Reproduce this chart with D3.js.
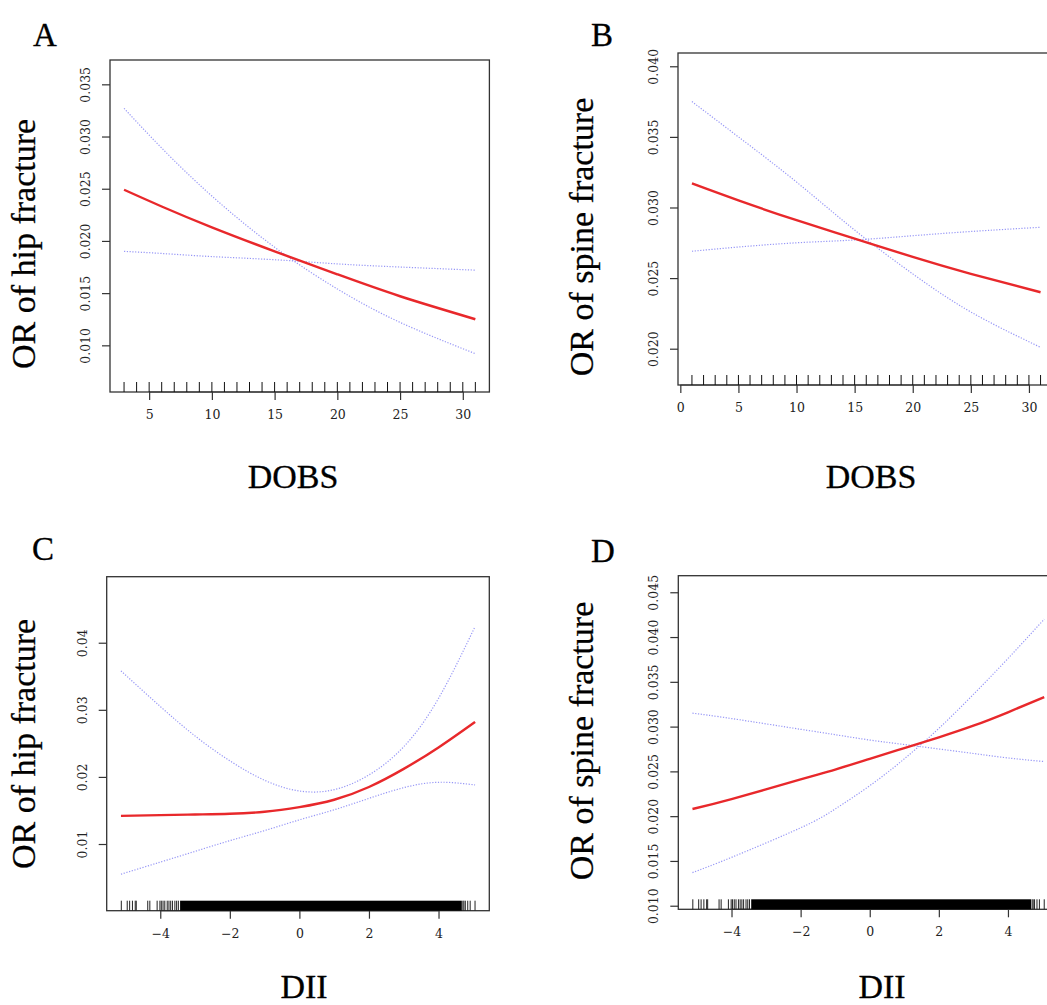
<!DOCTYPE html>
<html>
<head>
<meta charset="utf-8">
<script src="https://cdn.jsdelivr.net/npm/d3@7"></script>
<style>
  body { margin: 0; background: #fff; overflow: hidden; }
  svg { display: block; }
</style>
</head>
<body>
<div id="container"></div>
<script>
const width = 1047,
  height = 1005;

// ---- data ----

// A: DOBS vs OR of hip fracture
const dobsA = [3, 6, 10, 15, 20, 25, 31];
const hipFitA = [0.0249, 0.0233, 0.0213, 0.0190, 0.0168, 0.0147, 0.0125];
const hipBandA1 = [0.0327, 0.0289, 0.0243, 0.0194, 0.0154, 0.0122, 0.0092];
const hipBandA2 = [0.0190, 0.0188, 0.0185, 0.0182, 0.0178, 0.0175, 0.0172];
const rugA = [3, 4, 5, 6, 7, 8, 9, 10, 11, 12, 13, 14, 15, 16, 17, 18, 19, 20, 21, 22, 23, 24, 25, 26, 27, 28, 29, 30, 31];

// B: DOBS vs OR of spine fracture
const dobsB = [1, 5, 10, 15, 20, 25, 31];
const spineFitB = [0.0317, 0.0305, 0.0291, 0.0278, 0.0265, 0.0253, 0.0240];
const spineBandB1 = [0.0375, 0.0350, 0.0318, 0.0284, 0.0253, 0.0226, 0.0201];
const spineBandB2 = [0.0269, 0.0272, 0.0275, 0.0277, 0.0280, 0.0283, 0.0286];
const rugB = [1, 2, 3, 4, 5, 6, 7, 8, 9, 10, 11, 12, 13, 14, 15, 16, 17, 18, 19, 20, 21, 22, 23, 24, 25, 26, 27, 28, 29, 30, 31];

// C: DII vs OR of hip fracture
const diiC = [-5.13, -4, -3, -2, -1, 0, 1, 2, 3, 4, 5.05];
const hipFitC = [0.0142, 0.0143, 0.0144, 0.0145, 0.0148, 0.0155, 0.0166, 0.0185, 0.0212, 0.0244, 0.0282];
const hipBandC1 = [0.0358, 0.0305, 0.0261, 0.0224, 0.0195, 0.0179, 0.0181, 0.0203, 0.0245, 0.0317, 0.0424];
const hipBandC2 = [0.0055, 0.0073, 0.0089, 0.0105, 0.0120, 0.0136, 0.0151, 0.0168, 0.0184, 0.0192, 0.0188];

// D: DII vs OR of spine fracture
const diiD = [-5.13, -4, -2, -1, 0, 1, 2, 3, 4, 5.05];
const spineFitD = [0.0208, 0.0219, 0.0241, 0.0252, 0.0264, 0.0276, 0.0288, 0.0301, 0.0316, 0.0333];
const spineBandD1 = [0.0137, 0.0154, 0.0187, 0.0208, 0.0234, 0.0264, 0.0298, 0.0336, 0.0376, 0.0420];
const spineBandD2 = [0.0315, 0.0309, 0.0297, 0.0291, 0.0285, 0.0280, 0.0275, 0.0270, 0.0265, 0.0261];

// DII rug: sparse ticks at both ends + the solid dense run in between
const diiRugSparse = [-5.12, -4.95, -4.88, -4.80, -4.72, -4.69, -4.36, -4.30, -4.09, -4.01, -3.97, -3.92,
  -3.87, -3.80, -3.75, -3.70, -3.65, -3.58, -3.53, -3.48, 4.70, 4.73, 4.77, 4.84, 4.91, 5.05];
const diiRugDense = [-3.43, 4.67];

// tick labels
const dobsTicksA = [5, 10, 15, 20, 25, 30];
const dobsTicksB = [0, 5, 10, 15, 20, 25, 30];
const diiTicks = [-4, -2, 0, 2, 4];
const yTicksA = [0.010, 0.015, 0.020, 0.025, 0.030, 0.035];
const yTicksB = [0.020, 0.025, 0.030, 0.035, 0.040];
const yTicksC = [0.01, 0.02, 0.03, 0.04];
const yTicksD = [0.010, 0.015, 0.020, 0.025, 0.030, 0.035, 0.040, 0.045];

// ---- panel layout ----
const panels = [
  {letter: "A", letterPos: [45, 46], box: [110, 60, 489.4, 392], xDomain: [1.88, 32.12], yDomain: [0.00553, 0.03733],
    x: dobsA, fit: hipFitA, b1: hipBandA1, b2: hipBandA2, rug: rugA,
    xTicks: dobsTicksA, yTicks: yTicksA, yFmt: ".3f", xlab: "DOBS", xlabPos: [293, 488], ylab: "OR of hip fracture", ylabPos: [35, 244]},
  {letter: "B", letterPos: [602, 46], box: [678, 53, 1054.5, 385], xDomain: [-0.2, 32.2], yDomain: [0.01743, 0.04094],
    x: dobsB, fit: spineFitB, b1: spineBandB1, b2: spineBandB2, rug: rugB,
    xTicks: dobsTicksB, yTicks: yTicksB, yFmt: ".3f", xlab: "DOBS", xlabPos: [871, 488], ylab: "OR of spine fracture", ylabPos: [593, 237]},
  {letter: "C", letterPos: [43, 560], box: [106.7, 576.7, 489.3, 910.7], xDomain: [-5.54, 5.46], yDomain: [0.00006, 0.04984],
    x: diiC, fit: hipFitC, b1: hipBandC1, b2: hipBandC2, rugSparse: diiRugSparse, rugDense: diiRugDense,
    xTicks: diiTicks, yTicks: yTicksC, yFmt: ".2f", xlab: "DII", xlabPos: [304, 998], ylab: "OR of hip fracture", ylabPos: [35, 744]},
  {letter: "D", letterPos: [603, 562], box: [678.3, 575.7, 1058.4, 909.3], xDomain: [-5.54, 5.46], yDomain: [0.0096, 0.04685],
    x: diiD, fit: spineFitD, b1: spineBandD1, b2: spineBandD2, rugSparse: diiRugSparse, rugDense: diiRugDense,
    xTicks: diiTicks, yTicks: yTicksD, yFmt: ".3f", xlab: "DII", xlabPos: [882, 998], ylab: "OR of spine fracture", ylabPos: [593, 741]}
];

const svg = d3.select("#container")
  .append("svg")
  .attr("width", width)
  .attr("height", height);

const serif = "'Liberation Serif', 'Times New Roman', serif";
const tickFont = "'DejaVu Serif', serif";

panels.forEach(p => drawPanel(p));

function drawPanel(p) {
  const [x0, y0, x1, y1] = p.box;

  const xScale = d3.scaleLinear().domain(p.xDomain).range([x0, x1]);
  const yScale = d3.scaleLinear().domain(p.yDomain).range([y1, y0]);

  const g = svg.append("g").attr("class", "panel-" + p.letter);

  // x axis (R style: line only between first and last tick)
  const xAxis = d3.axisBottom(xScale)
    .tickValues(p.xTicks)
    .tickSize(8)
    .tickPadding(10)
    .tickFormat(d => d < 0 ? "\u2212" + Math.abs(d) : d);

  const xAxisGroup = g.append("g")
    .attr("transform", `translate(0,${y1})`)
    .call(xAxis);
  xAxisGroup.select(".domain").remove();
  xAxisGroup.append("line")
    .attr("x1", xScale(p.xTicks[0]))
    .attr("x2", xScale(p.xTicks[p.xTicks.length - 1]))
    .attr("stroke", "#333")
    .attr("stroke-width", 1.2);
  xAxisGroup.selectAll(".tick line").attr("stroke", "#333").attr("stroke-width", 1.2);
  xAxisGroup.selectAll(".tick text")
    .attr("font-family", tickFont)
    .attr("font-size", 12.5)
    .attr("fill", "#222");

  // y axis, labels parallel to the axis
  const yAxis = d3.axisLeft(yScale)
    .tickValues(p.yTicks)
    .tickSize(8)
    .tickFormat(d3.format(p.yFmt));

  const yAxisGroup = g.append("g")
    .attr("transform", `translate(${x0},0)`)
    .call(yAxis);
  yAxisGroup.select(".domain").remove();
  yAxisGroup.selectAll(".tick line").attr("stroke", "#333").attr("stroke-width", 1.2);
  yAxisGroup.selectAll(".tick text")
    .attr("x", null).attr("dy", null)
    .attr("text-anchor", "middle")
    .attr("transform", "translate(-20,0) rotate(-90)")
    .attr("font-family", tickFont)
    .attr("font-size", 12.5)
    .attr("fill", "#222");

  // plot box
  g.append("rect")
    .attr("x", x0).attr("y", y0)
    .attr("width", x1 - x0).attr("height", y1 - y0)
    .attr("fill", "none")
    .attr("stroke", "#333")
    .attr("stroke-width", 1.3);

  // rug
  if (p.rug) {
    g.selectAll("line.rug")
      .data(p.rug)
      .join("line")
      .attr("class", "rug")
      .attr("x1", d => xScale(d)).attr("x2", d => xScale(d))
      .attr("y1", y1).attr("y2", y1 - 10)
      .attr("stroke", "#111")
      .attr("stroke-width", 1);
  }
  if (p.rugDense) {
    g.append("rect")
      .attr("x", xScale(p.rugDense[0]))
      .attr("width", xScale(p.rugDense[1]) - xScale(p.rugDense[0]))
      .attr("y", y1 - 10)
      .attr("height", 10)
      .attr("fill", "#000");
    g.selectAll("line.rug")
      .data(p.rugSparse)
      .join("line")
      .attr("class", "rug")
      .attr("x1", d => xScale(d)).attr("x2", d => xScale(d))
      .attr("y1", y1).attr("y2", y1 - 10)
      .attr("stroke", "#222")
      .attr("stroke-width", 1);
  }

  const line = d3.line()
    .x(d => xScale(d[0]))
    .y(d => yScale(d[1]))
    .curve(d3.curveNatural);

  // confidence limits, dotted blue
  [p.b1, p.b2].forEach(band => {
    g.append("path")
      .datum(p.x.map((v, i) => [v, band[i]]))
      .attr("d", line)
      .attr("fill", "none")
      .attr("stroke", "#8484f4")
      .attr("stroke-width", 1.2)
      .attr("stroke-dasharray", "1.2 1.6")
      .attr("opacity", 0.85);
  });

  // fitted OR, solid red
  g.append("path")
    .datum(p.x.map((v, i) => [v, p.fit[i]]))
    .attr("d", line)
    .attr("fill", "none")
    .attr("stroke", "#e8282b")
    .attr("stroke-width", 2.4);

  // titles
  g.append("text")
    .attr("x", p.letterPos[0]).attr("y", p.letterPos[1])
    .attr("text-anchor", "middle")
    .attr("font-family", serif)
    .attr("font-size", 33)
    .attr("stroke", "#000").attr("stroke-width", 0.3)
    .text(p.letter);

  g.append("text")
    .attr("x", p.xlabPos[0]).attr("y", p.xlabPos[1])
    .attr("text-anchor", "middle")
    .attr("font-family", serif)
    .attr("font-size", 34)
    .attr("stroke", "#000").attr("stroke-width", 0.3)
    .text(p.xlab);

  g.append("text")
    .attr("transform", `translate(${p.ylabPos[0]},${p.ylabPos[1]}) rotate(-90)`)
    .attr("text-anchor", "middle")
    .attr("font-family", serif)
    .attr("font-size", 34)
    .attr("stroke", "#000").attr("stroke-width", 0.3)
    .text(p.ylab);
}
</script>
</body>
</html>
